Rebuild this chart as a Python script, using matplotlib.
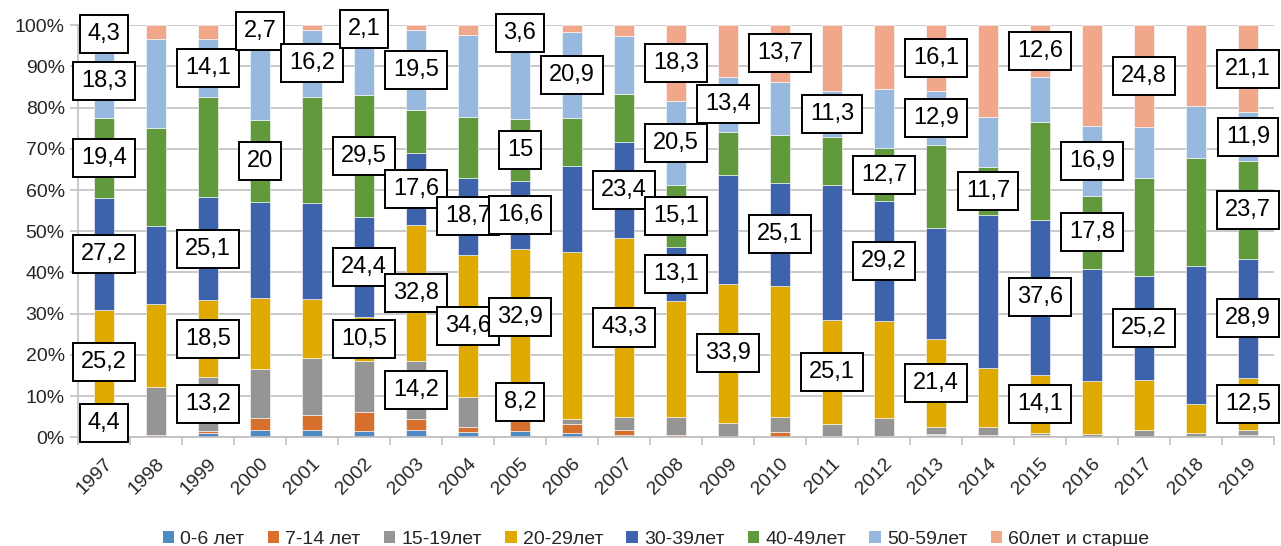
import numpy as np
import matplotlib
matplotlib.use("Agg")
from matplotlib import pyplot as plt
from matplotlib.patches import Patch

# age structure by year, percent of total
years = [str(y) for y in range(1997, 2020)]
age_0_6 = [0.5, 0.2, 1.0, 1.9, 1.9, 1.6, 1.8, 1.2, 1.6, 1.0, 0.6, 0.2, 0.1, 0.0, 0.2, 0.1, 0.5, 0.2, 0.2, 0.1, 0.1, 0.1, 0.1]
age_7_14 = [0.7, 0.4, 0.5, 2.9, 3.4, 4.5, 2.6, 1.2, 2.9, 2.2, 1.3, 0.4, 0.1, 1.2, 0.2, 0.2, 0.2, 0.4, 0.3, 0.1, 0.1, 0.1, 0.5]
age_15_19 = [4.4, 11.7, 13.2, 11.9, 14.0, 12.5, 14.2, 7.3, 8.2, 1.2, 3.1, 4.4, 3.2, 3.8, 2.9, 4.5, 1.8, 2.0, 0.6, 0.6, 1.5, 0.9, 1.3]
age_20_29 = [25.2, 20.0, 18.5, 17.2, 14.2, 10.5, 32.8, 34.6, 32.9, 40.5, 43.3, 28.0, 33.9, 31.7, 25.1, 23.4, 21.4, 14.3, 14.1, 12.9, 12.3, 7.0, 12.5]
age_30_39 = [27.2, 19.0, 25.1, 23.1, 23.3, 24.4, 17.6, 18.7, 16.6, 21.0, 23.4, 13.1, 26.3, 25.1, 32.7, 29.2, 27.0, 37.0, 37.6, 27.1, 25.2, 33.5, 28.9]
age_40_49 = [19.4, 23.8, 24.3, 20.0, 25.8, 29.5, 10.3, 14.8, 15.0, 11.6, 11.7, 15.1, 10.5, 11.5, 11.7, 12.7, 20.1, 11.7, 23.7, 17.8, 23.7, 26.1, 23.7]
age_50_59 = [18.3, 21.5, 14.1, 20.3, 16.2, 14.9, 19.5, 19.8, 19.2, 20.9, 14.0, 20.5, 13.4, 13.0, 11.3, 14.3, 12.9, 12.2, 10.9, 16.9, 12.3, 12.7, 11.9]
age_60 = [4.3, 3.4, 3.3, 2.7, 1.2, 2.1, 1.2, 2.4, 3.6, 1.6, 2.6, 18.3, 12.5, 13.7, 15.9, 15.6, 16.1, 22.2, 12.6, 24.5, 24.8, 19.6, 21.1]

series = [age_0_6, age_7_14, age_15_19, age_20_29, age_30_39, age_40_49, age_50_59, age_60]
names = ["0-6 лет", "7-14 лет", "15-19лет", "20-29лет", "30-39лет", "40-49лет", "50-59лет", "60лет и старше"]
colors = ["#4e8ac4", "#d6702c", "#959595", "#e0a900", "#3d63ad", "#61993d", "#97b9e0", "#f0a78a"]

# which segments carry a value box (year -> series indices)
labelled = {
    "1997": [2, 3, 4, 5, 6, 7],
    "1999": [2, 3, 4, 6],
    "2000": [5, 7],
    "2001": [6],
    "2002": [3, 4, 5, 7],
    "2003": [2, 3, 4, 6],
    "2004": [3, 4],
    "2005": [2, 3, 4, 5, 7],
    "2006": [6],
    "2007": [3, 4],
    "2008": [4, 5, 6, 7],
    "2009": [3, 6],
    "2010": [4, 7],
    "2011": [3, 6],
    "2012": [4, 5],
    "2013": [3, 6, 7],
    "2014": [5],
    "2015": [3, 4, 7],
    "2016": [5, 6],
    "2017": [4, 7],
    "2019": [3, 4, 5, 6, 7],
}

plt.rcParams['font.family'] = ['Liberation Sans', 'DejaVu Sans']
text_col = "#262626"
grid_col = "#c0c0c0"

fig = plt.figure(figsize=(12.81, 5.46), dpi=100)
ax = fig.add_axes([0.0609, 0.199, 0.9336, 0.755])

x = np.arange(len(years))
bottom = np.zeros(len(years))
bottoms = []
for vals, col in zip(series, colors):
    vals = np.array(vals)
    ax.bar(x, vals, 0.4, bottom=bottom, color=col, edgecolor="white",
           linewidth=0.4, zorder=2)
    bottoms.append(bottom.copy())
    bottom += vals

for yr, idxs in labelled.items():
    i = years.index(yr)
    for s in idxs:
        v = series[s][i]
        yc = bottoms[s][i] + v / 2
        ax.text(i, yc, f"{v:g}".replace(".", ","), ha="center", va="center",
                fontsize=17, color="black", zorder=5, clip_on=False,
                bbox=dict(boxstyle="square,pad=0.34", fc="white", ec="black", lw=1.4))

ax.set_xlim(-0.5, len(years) - 0.5)
ax.set_ylim(0, 100)
ax.set_yticks(np.arange(0, 101, 10))
ax.set_yticklabels([f"{t}%" for t in range(0, 101, 10)])
ax.yaxis.grid(True, color=grid_col, lw=1.2, zorder=0)
ax.set_axisbelow(True)

ax.set_xticks(x)
ax.set_xticklabels(years, rotation=45, ha="right", rotation_mode="anchor")
ax.set_xticks(np.arange(-0.5, len(years)), minor=True)
ax.tick_params(axis="x", which="major", length=0, pad=13, labelsize=14, labelcolor=text_col)
ax.tick_params(axis="x", which="minor", length=6, color=grid_col, width=1.2)
ax.tick_params(axis="y", length=6, color=grid_col, width=1.2, labelsize=14, labelcolor=text_col)

for side in ("top", "right"):
    ax.spines[side].set_visible(False)
for side in ("left", "bottom"):
    ax.spines[side].set_color(grid_col)
    ax.spines[side].set_linewidth(1.2)

handles = [Patch(facecolor=c, label=n) for c, n in zip(colors, names)]
fig.legend(handles=handles, loc="lower center", bbox_to_anchor=(0.512, -0.035), ncol=8,
           frameon=False, fontsize=14, labelcolor=text_col, handlelength=0.6,
           handleheight=0.6, handletextpad=0.3, columnspacing=1.2)

fig.savefig("out.png", dpi=100)
